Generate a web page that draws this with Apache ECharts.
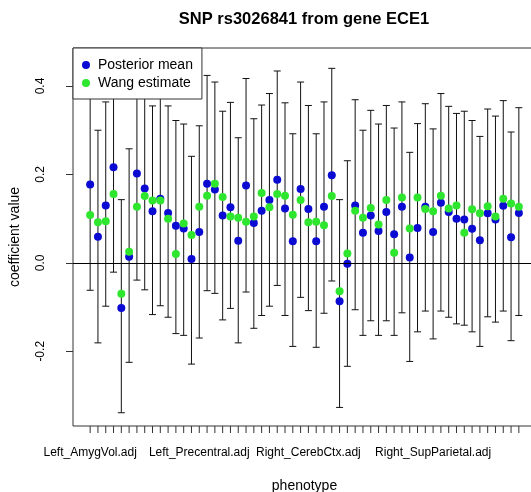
<!DOCTYPE html>
<html>
<head>
<meta charset="utf-8">
<script src="https://cdn.jsdelivr.net/npm/echarts@6/dist/echarts.min.js"></script>
<style>
html,body{margin:0;padding:0;background:#fff;}
#chart{width:531px;height:492px;}
</style>
</head>
<body>
<div id="chart"></div>
<script>
// phenotype numbers (1..56) and the labels R managed to print
const phenotypeIndex = Array.from({length: 56}, (_, k) => k + 1);
const labelAt = [1, 15, 29, 45];
const labelText = ['Left_AmygVol.adj', 'Left_Precentral.adj', 'Right_CerebCtx.adj', 'Right_SupParietal.adj'];
const yTicks = [-0.2, 0.0, 0.2, 0.4];

const posteriorMean = [
  0.177, 0.059, 0.130, 0.216, -0.102, 0.014, 0.202, 0.168, 0.117, 0.145,
  0.113, 0.084, 0.078, 0.009, 0.070, 0.179, 0.166, 0.107, 0.126, 0.050,
  0.175, 0.090, 0.118, 0.142, 0.188, 0.123, 0.049, 0.167, 0.122, 0.049,
  0.127, 0.198, -0.087, -0.002, 0.130, 0.068, 0.107, 0.072, 0.115, 0.065,
  0.127, 0.012, 0.079, 0.127, 0.070, 0.136, 0.115, 0.100, 0.098, 0.077,
  0.051, 0.112, 0.098, 0.129, 0.058, 0.113
];
const wangEstimate = [
  0.108, 0.092, 0.094, 0.156, -0.070, 0.025, 0.127, 0.151, 0.141, 0.141,
  0.100, 0.020, 0.089, 0.063, 0.127, 0.152, 0.179, 0.149, 0.105, 0.102,
  0.093, 0.105, 0.158, 0.126, 0.156, 0.152, 0.109, 0.142, 0.092, 0.093,
  0.085, 0.151, -0.064, 0.021, 0.118, 0.102, 0.124, 0.087, 0.142, 0.023,
  0.148, 0.078, 0.148, 0.122, 0.117, 0.152, 0.123, 0.130, 0.068, 0.121,
  0.112, 0.128, 0.105, 0.145, 0.134, 0.127
];
const upper = [
  0.416, 0.300, 0.364, 0.453, 0.143, 0.258, 0.443, 0.397, 0.355, 0.387,
  0.355, 0.322, 0.314, 0.241, 0.310, 0.424, 0.409, 0.343, 0.363, 0.283,
  0.417, 0.326, 0.357, 0.383, 0.434, 0.362, 0.292, 0.409, 0.356, 0.292,
  0.364, 0.440, 0.143, 0.231, 0.369, 0.300, 0.345, 0.314, 0.356, 0.305,
  0.364, 0.250, 0.315, 0.360, 0.303, 0.383, 0.354, 0.338, 0.343, 0.322,
  0.286, 0.348, 0.332, 0.367, 0.296, 0.351
];
const lower = [
  -0.062, -0.181, -0.098, -0.021, -0.339, -0.225, -0.039, -0.061, -0.117, -0.097,
  -0.123, -0.160, -0.164, -0.229, -0.170, -0.063, -0.069, -0.129, -0.103, -0.181,
  -0.066, -0.148, -0.119, -0.098, -0.051, -0.119, -0.189, -0.078, -0.108, -0.191,
  -0.114, -0.041, -0.327, -0.234, -0.106, -0.164, -0.131, -0.164, -0.131, -0.164,
  -0.113, -0.223, -0.156, -0.109, -0.172, -0.109, -0.123, -0.138, -0.141, -0.156,
  -0.189, -0.122, -0.134, -0.109, -0.176, -0.119
];

const FONT = '"Liberation Sans", Arial, Helvetica, sans-serif';
const chart = echarts.init(document.getElementById('chart'), null, {renderer: 'canvas'});

const barData = phenotypeIndex.map((p, k) => [p, lower[k], upper[k]]);
const pmData = phenotypeIndex.map((p, k) => [p, posteriorMean[k]]);
const wangData = phenotypeIndex.map((p, k) => [p, wangEstimate[k]]);

chart.setOption({
  animation: false,
  backgroundColor: '#fff',
  graphic: [
    {type: 'text', x: 304, y: 19, style: {text: 'SNP rs3026841 from gene ECE1', font: 'bold 16.5px ' + FONT, fill: '#000',
      textAlign: 'center', textVerticalAlign: 'middle', align: 'center', verticalAlign: 'middle'}}
  ],
  grid: {left: 73, top: 48, width: 463, height: 378, show: true, borderColor: '#333', borderWidth: 1,
    backgroundColor: 'transparent', containLabel: false, outerBoundsMode: 'none'},
  legend: {
    orient: 'vertical', left: 73, top: 48,
    data: ['Posterior mean', 'Wang estimate'],
    icon: 'circle', itemWidth: 8, itemHeight: 8, itemGap: 4,
    padding: [10, 9, 9, 9],
    backgroundColor: '#fff', borderColor: '#333', borderWidth: 1, borderRadius: 0,
    textStyle: {fontFamily: FONT, fontSize: 14, color: '#000', padding: [0, 0, 0, 3], lineHeight: 14}
  },
  xAxis: {
    type: 'value', min: -1.2, max: 58.2, position: 'bottom',
    name: 'phenotype', nameLocation: 'middle', nameGap: 53,
    nameTextStyle: {fontFamily: FONT, fontSize: 14, color: '#000'},
    axisLine: {show: false, onZero: false},
    splitLine: {show: false},
    axisTick: {show: false},
    axisLabel: {show: true, customValues: labelAt, margin: 21, fontFamily: FONT, fontSize: 12, color: '#000',
      formatter: v => { const k = labelAt.indexOf(Math.round(v)); return k >= 0 ? labelText[k] : ''; }}
  },
  yAxis: {
    type: 'value', min: -0.369, max: 0.486, position: 'left',
    name: 'coefficient value', nameLocation: 'middle', nameGap: 51, nameRotate: 90,
    nameTextStyle: {fontFamily: FONT, fontSize: 14, color: '#000'},
    axisLine: {show: false, onZero: false},
    splitLine: {show: false},
    axisTick: {show: true, inside: false, length: 7, customValues: yTicks, lineStyle: {color: '#333', width: 1}},
    axisLabel: {show: true, customValues: yTicks, rotate: 90, margin: 26, fontFamily: FONT, fontSize: 12, color: '#000',
      formatter: v => v.toFixed(1)}
  },
  series: [
    {
      type: 'custom', name: 'interval', data: barData, z: 2, silent: true,
      renderItem: function (params, api) {
        const x = api.value(0);
        const pLo = api.coord([x, api.value(1)]);
        const pHi = api.coord([x, api.value(2)]);
        const cs = params.coordSys;
        const bottom = cs.y + cs.height;
        const w = 3.5;
        const st = {stroke: '#111', lineWidth: 1};
        return {type: 'group', children: [
          {type: 'line', shape: {x1: pLo[0], y1: pLo[1], x2: pHi[0], y2: pHi[1]}, style: st},
          {type: 'line', shape: {x1: pHi[0] - w, y1: pHi[1], x2: pHi[0] + w, y2: pHi[1]}, style: st},
          {type: 'line', shape: {x1: pLo[0] - w, y1: pLo[1], x2: pLo[0] + w, y2: pLo[1]}, style: st},
          // axis tick for this phenotype
          {type: 'line', shape: {x1: pLo[0], y1: bottom, x2: pLo[0], y2: bottom + 7}, style: {stroke: '#333', lineWidth: 1}}
        ]};
      },
      markLine: {
        silent: true, symbol: 'none', label: {show: false},
        lineStyle: {color: '#000', width: 1, type: 'solid'},
        data: [{yAxis: 0}]
      }
    },
    {type: 'scatter', name: 'Posterior mean', data: pmData, symbol: 'circle', symbolSize: 8,
      itemStyle: {color: '#0a0ad2', opacity: 1}, z: 3},
    {type: 'scatter', name: 'Wang estimate', data: wangData, symbol: 'circle', symbolSize: 8,
      itemStyle: {color: '#2ee62e', opacity: 1}, z: 4}
  ]
});
</script>
</body>
</html>
